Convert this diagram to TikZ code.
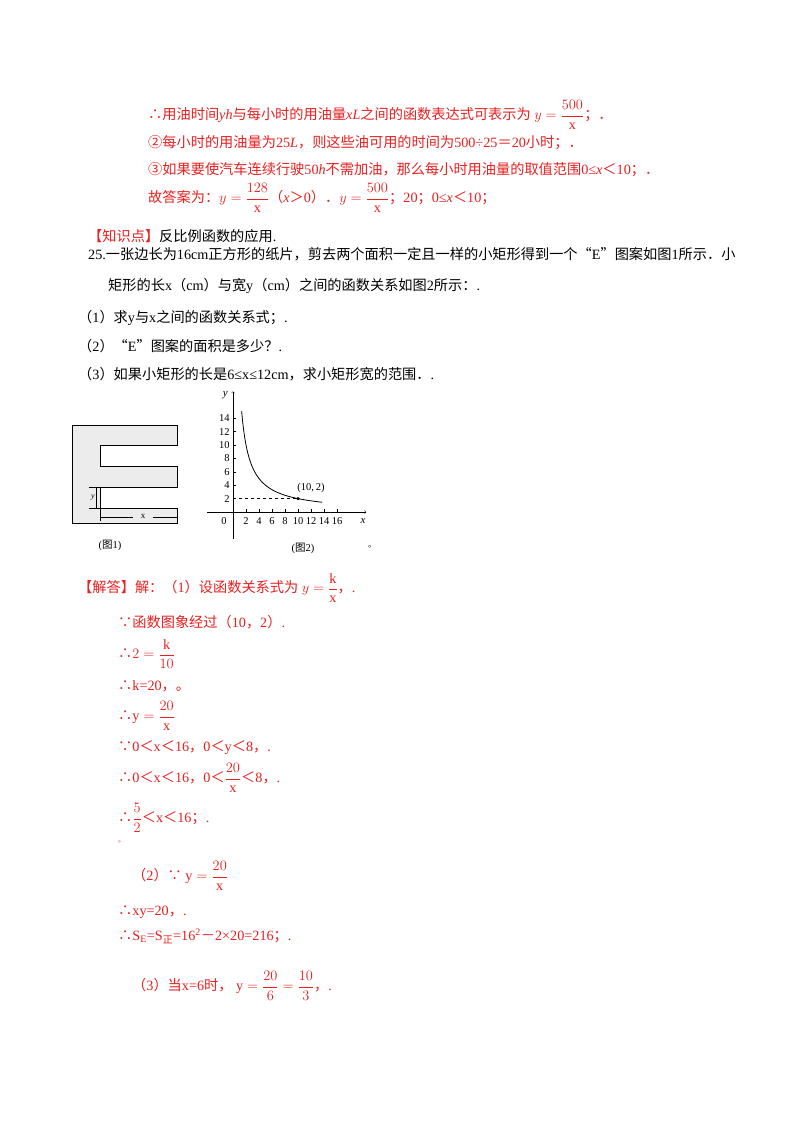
\documentclass[tikz,border=0pt]{standalone}
\usepackage{amsmath}
\usepackage{fontspec}
\setmainfont{Liberation Serif}
\newfontfamily\cj{Noto Sans CJK SC}
\XeTeXinterchartokenstate=1
\newXeTeXintercharclass\cjkclass
\newcount\cc
\cc="4E00 \loop\XeTeXcharclass\cc=\cjkclass \advance\cc by 1 \ifnum\cc<"A000 \repeat
\cc="3000 \loop\XeTeXcharclass\cc=\cjkclass \advance\cc by 1 \ifnum\cc<"3040 \repeat
\cc="FF00 \loop\XeTeXcharclass\cc=\cjkclass \advance\cc by 1 \ifnum\cc<"FFF0 \repeat
\cc="2460 \loop\XeTeXcharclass\cc=\cjkclass \advance\cc by 1 \ifnum\cc<"2474 \repeat
\XeTeXcharclass"2234=\cjkclass \XeTeXcharclass"2235=\cjkclass
\XeTeXcharclass"201C=\cjkclass \XeTeXcharclass"201D=\cjkclass
\XeTeXinterchartoks 0 \cjkclass {\cj}
\XeTeXinterchartoks 4095 \cjkclass {\cj}
\XeTeXinterchartoks \cjkclass 0 {\rmfamily}
\XeTeXinterchartoks \cjkclass 4095 {\rmfamily}
\definecolor{rd}{RGB}{232,32,32}
\begin{document}
\begin{tikzpicture}[x=1pt,y=-1pt,
  t/.style={anchor=west,inner sep=0pt,font=\fontsize{14.2}{16}\selectfont},
  r/.style={t,text=rd},
  g/.style={font=\fontsize{10.5}{10.5}\selectfont,inner sep=0pt}]
\useasboundingbox[fill=white] (0,0) rectangle (800,1132);
\node[r] (l1) at (148,115) {∴用油时间\textit{yh}与每小时的用油量\textit{xL}之间的函数表达式可表示为 $y=\dfrac{500}{\mathrm{x}}$；．};
\node[r] (l2) at (148,143) {②每小时的用油量为25\textit{L}，则这些油可用的时间为500÷25＝20小时；．};
\node[r] (l3) at (148,170) {③如果要使汽车连续行驶50\textit{h}不需加油，那么每小时用油量的取值范围0≤\textit{x}＜10；．};
\node[r] (l4) at (148,198) {故答案为：$y=\dfrac{128}{\mathrm{x}}$（\textit{x}＞0）．$y=\dfrac{500}{\mathrm{x}}$；20；0≤\textit{x}＜10；};
\node[t] (k) at (88,236) {\textcolor{rd}{【知识点】}反比例函数的应用.};
\node[t] (q1) at (88,254) {25.一张边长为16cm正方形的纸片，剪去两个面积一定且一样的小矩形得到一个“E”图案如图1所示．小};
\node[t] (q2) at (108,286) {矩形的长x（cm）与宽y（cm）之间的函数关系如图2所示：.};
\node[t] (q3) at (78,318) {（1）求y与x之间的函数关系式；.};
\node[t] (q4) at (78,346) {（2）“E”图案的面积是多少？.};
\node[t] (q5) at (78,374) {（3）如果小矩形的长是6≤x≤12cm，求小矩形宽的范围．.};
% figure 1
\fill[gray!15] (72,425) -- (177,425) -- (177,445) -- (100,445) -- (100,466) -- (177,466) -- (177,487) -- (100,487) -- (100,508) -- (177,508) -- (177,523) -- (72,523) -- cycle;
\draw[line width=1pt] (72,425) -- (177,425) -- (177,445) -- (100,445) -- (100,466) -- (177,466) -- (177,487) -- (100,487);
\draw[line width=1pt] (100,508) -- (177,508) -- (177,523) -- (72,523) -- (72,425);
\draw (89,508) -- (100,508);
\draw (100,487) -- (100,521);
\draw (89,487) -- (100,487);
\draw (96,487) -- (96,508);
\node[inner sep=0pt,font=\fontsize{8}{8}\selectfont\itshape] (fy) at (93,498) {y};
\draw (100,517) -- (133,517); \draw (153,517) -- (177,517);
\node[inner sep=0pt,font=\fontsize{9}{9}\selectfont] (fx) at (143,516) {x};
\node[g] (c1) at (110,545) {(图1)};
% figure 2
\begin{scope}[shift={(233,512)},x=6.5pt,y=6.7pt]
\draw[->] (-4,0) -- (20.5,0);
\draw[->] (0,-4) -- (0,18);
\foreach \i in {2,4,...,16} {\draw (\i,0) -- (\i,0.5); \node[g] at (\i,-1.3) {\i};}
\foreach \j in {2,4,...,14} {\draw (0,\j) -- (0.5,\j); \node[g,anchor=east] at (-0.5,\j) {\j};}
\node[g] (o) at (-1.4,-1.3) {0};
\node[g,font=\fontsize{11}{11}\selectfont\itshape] (xl) at (20,-1.3) {x};
\node[g,font=\fontsize{11}{11}\selectfont\itshape] (yl) at (-1.2,17.5) {y};
\draw[thick,domain=1.33:13.7,samples=80] plot (\x,{20/\x});
\draw[dashed] (0,2) -- (10,2);
\fill (10,2) circle (1.8pt);
\node[g] (pl) at (12,3.6) {(10,\,2)};
\end{scope}
\node[g] (c2) at (303,548) {(图2)};
\node[inner sep=0pt,font=\fontsize{8}{8}\selectfont] (dot0) at (372,547) {。};
% answer
\node[r] (a1) at (78,588) {【解答】解：（1）设函数关系式为 $y=\dfrac{\mathrm{k}}{\mathrm{x}}$，.};
\node[r] (a2) at (118,622) {∵函数图象经过（10，2）.};
\node[r] (a3) at (118,654) {∴$2=\dfrac{\mathrm{k}}{10}$};
\node[r] (a4) at (118,686) {∴k=20，。};
\node[r] (a5) at (118,716) {∴$\mathrm{y}=\dfrac{20}{\mathrm{x}}$};
\node[r] (a6) at (118,748) {∵0＜x＜16，0＜y＜8，.};
\node[r] (a7) at (118,778) {∴0＜x＜16，0＜$\dfrac{20}{\mathrm{x}}$＜8，.};
\node[r] (a8) at (118,818) {∴$\dfrac{5}{2}$＜x＜16；.};
\node[r,font=\fontsize{7}{7}\selectfont] (a9) at (118,842) {。};
\node[r] (b1) at (132,876) {（2）∵ $\mathrm{y}=\dfrac{20}{\mathrm{x}}$};
\node[r] (b2) at (118,912) {∴xy=20，.};
\node[r] (b3) at (118,936) {∴S\textsubscript{E}=S\textsubscript{正}=16\textsuperscript{2}－2×20=216；.};
\node[r] (c) at (132,986) {（3）当x=6时， $\mathrm{y}=\dfrac{20}{6}=\dfrac{10}{3}$，.};
\end{tikzpicture}
\end{document}
